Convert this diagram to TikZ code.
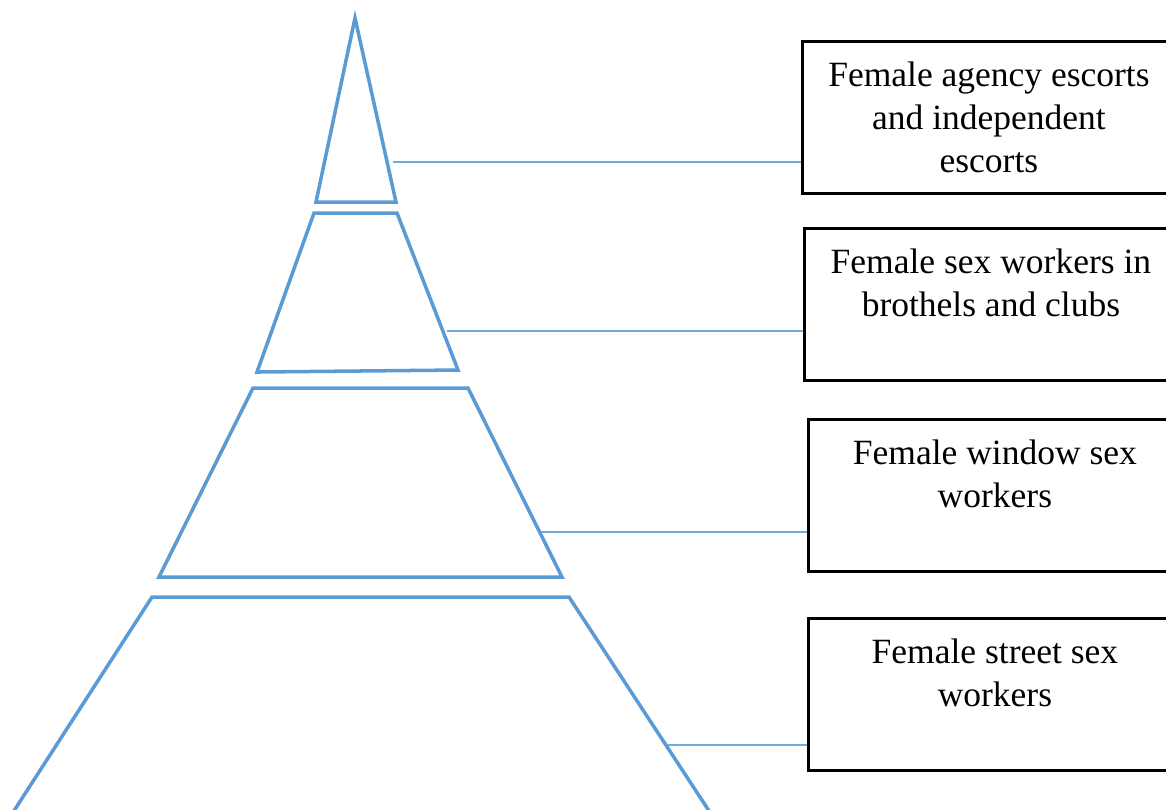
\documentclass[tikz,border=0pt]{standalone}
\usepackage{fontspec}
\setmainfont{Liberation Serif}
\usetikzlibrary{positioning}
\definecolor{pyrblue}{RGB}{91,155,213}

\begin{document}
\begin{tikzpicture}[x=0.1mm,y=-0.1mm,
  layer/.style={draw=pyrblue,line width=1pt,line join=miter},
  link/.style={draw=pyrblue!85,line width=0.4pt},
  box/.style={draw=black,line width=0.8pt,minimum width=37.3mm,minimum height=15.2mm,anchor=north west},
  boxtext/.style={align=center,inner sep=0pt,font=\fontsize{10.1}{12.2}\selectfont}]
\useasboundingbox (0,0) rectangle (1166,809);

% pyramid, top to bottom
\draw[layer] (355,18) -- (396,202) -- (316,202) -- cycle;
\draw[layer] (314,213) -- (397,213) -- (458,370) -- (257,372) -- cycle;
\draw[layer] (253,388) -- (468,388) -- (562,577) -- (159,577) -- cycle;
\draw[layer] (8,820) -- (152,597) -- (569,597) -- (715,820);

% where the links leave the pyramid
\coordinate (s1) at (393,162);
\coordinate (s2) at (447,331);
\coordinate (s3) at (541,532);
\coordinate (s4) at (668,745);

% boxes
\node[box] (b1) at (801,40) {};
\node[boxtext, below=2.1mm of b1.north] (l1) {Female agency escorts\\and independent\\escorts};
\node[box] (b2) at (803,227) {};
\node[boxtext, below=2.1mm of b2.north] (l2) {Female sex workers in\\brothels and clubs};
\node[box] (b3) at (807,418) {};
\node[boxtext, below=2.1mm of b3.north] (l3) {Female window sex\\workers};
\node[box] (b4) at (807,617) {};
\node[boxtext, below=2.1mm of b4.north] (l4) {Female street sex\\workers};

\draw[link] (s1) -- (b1.west |- s1);
\draw[link] (s2) -- (b2.west |- s2);
\draw[link] (s3) -- (b3.west |- s3);
\draw[link] (s4) -- (b4.west |- s4);

\end{tikzpicture}
\end{document}
